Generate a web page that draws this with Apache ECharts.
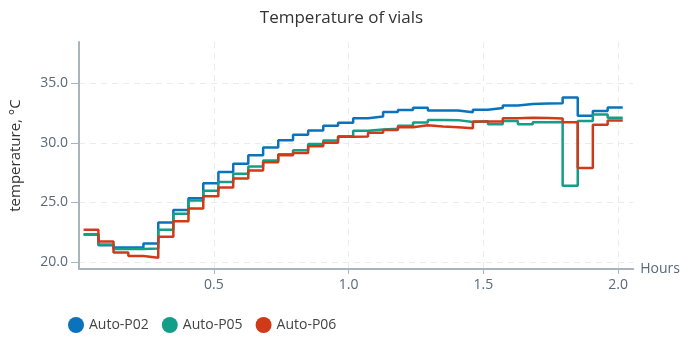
<!DOCTYPE html>
<html lang="en">
<head>
    <meta charset="UTF-8">
    <title>Temperature of vials</title>
    <script src="https://cdn.jsdelivr.net/npm/echarts@6/dist/echarts.min.js"></script>
</head>
<body style="margin:0">
    <div id="main" style="width:683px;height:341px;"></div>
</body>
<script>
// time of each step edge, hours
var hours = [0.017, 0.072, 0.128, 0.183, 0.239, 0.294, 0.350, 0.406, 0.461, 0.517,
             0.572, 0.628, 0.683, 0.739, 0.794, 0.850, 0.906, 0.961, 1.017, 1.072,
             1.128, 1.183, 1.239, 1.294, 1.350, 1.406, 1.461, 1.517, 1.572, 1.628,
             1.683, 1.739, 1.794, 1.850, 1.906, 1.961, 2.017];

var names = ['Auto-P02', 'Auto-P05', 'Auto-P06'];

var p02 = [22.3, 21.4, 21.2, 21.2, 21.55, 23.3, 24.35, 25.35, 26.6, 27.55,
           28.23, 28.95, 29.6, 30.2, 30.67, 31.03, 31.42, 31.67, 32.06, 32.2,
           32.59, 32.76, 32.93, 32.7, 32.7, 32.57, 32.78, 32.92, 33.12, 33.25,
           33.3, 33.32, 33.8, 32.27, 32.66, 32.97, 32.97];

var p05 = [22.3, 21.45, 21.07, 21.07, 21.12, 22.7, 24.03, 25.15, 25.98, 26.71,
           27.4, 28.0, 28.5, 29.04, 29.37, 29.9, 30.18, 30.55, 31.0, 31.11,
           31.17, 31.42, 31.7, 31.92, 31.9, 31.75, 31.8, 31.55, 31.83, 31.55,
           31.72, 31.75, 26.4, 31.83, 32.37, 32.11, 32.11];

var p06 = [22.7, 21.7, 20.78, 20.5, 20.35, 22.1, 23.4, 24.48, 25.5, 26.24,
           27.0, 27.68, 28.37, 28.95, 29.15, 29.7, 30.0, 30.5, 30.52, 30.85,
           31.08, 31.31, 31.47, 31.36, 31.3, 31.22, 31.78, 31.78, 32.06, 32.1,
           32.08, 32.04, 31.72, 27.88, 31.52, 31.87, 31.87];

var colors = ['#0a73bb', '#139e88', '#d13a19'];

function pairs(vals){
    var out = [];
    for (var i = 0; i < hours.length; i++) {
        out.push([hours[i], vals[i]]);
    }
    return out;
}

var font = 'Open Sans';
var axisGray = '#a9b4bd';
var labelGray = '#5a6878';

var chart = echarts.init(document.getElementById('main'));
chart.setOption({
    animation: false,
    color: colors,
    textStyle: { fontFamily: font },
    title: {
        text: 'Temperature of vials',
        left: 'center',
        top: 5,
        textStyle: { fontFamily: font, fontSize: 17, fontWeight: 'normal', color: '#333' }
    },
    grid: { left: 76, right: 46, top: 42, bottom: 72 },
    legend: {
        left: 63,
        top: 312,
        icon: 'circle',
        itemWidth: 16,
        itemHeight: 16,
        itemGap: 13,
        textStyle: { fontFamily: font, fontSize: 14, color: '#444' },
        data: names
    },
    xAxis: {
        type: 'value',
        min: 0,
        max: 2.056,
        interval: 0.5,
        name: 'Hours',
        nameLocation: 'end',
        nameGap: 7,
        nameTextStyle: { fontFamily: font, fontSize: 14, color: labelGray },
        axisLine: { lineStyle: { color: axisGray, width: 2 } },
        axisTick: { show: true, length: 5, lineStyle: { color: axisGray } },
        axisLabel: {
            showMinLabel: false,
            showMaxLabel: false,
            fontSize: 14,
            color: labelGray,
            margin: 9,
            formatter: function (v) { return v.toFixed(1); }
        },
        splitLine: {
            show: true,
            showMinLine: false,
            showMaxLine: false,
            lineStyle: { color: '#e9ecef', type: [6, 5] }
        }
    },
    yAxis: {
        type: 'value',
        min: 19.4,
        max: 38.46,
        splitNumber: 4,
        name: 'temperature, \u00b0C',
        nameLocation: 'middle',
        nameGap: 56,
        nameTextStyle: { fontFamily: font, fontSize: 15, color: '#333' },
        axisLine: { show: true, lineStyle: { color: axisGray, width: 2 } },
        axisTick: { show: true, length: 8, lineStyle: { color: axisGray } },
        axisLabel: {
            showMinLabel: false,
            showMaxLabel: false,
            fontSize: 14,
            color: labelGray,
            margin: 11,
            formatter: function (v) { return v.toFixed(1); }
        },
        splitLine: {
            show: true,
            showMinLine: false,
            showMaxLine: false,
            lineStyle: { color: '#e9ecef', type: [6, 5] }
        }
    },
    series: [
        { name: names[0], type: 'line', step: 'end', showSymbol: false, lineStyle: { width: 2.5 }, data: pairs(p02) },
        { name: names[1], type: 'line', step: 'end', showSymbol: false, lineStyle: { width: 2.5 }, data: pairs(p05) },
        { name: names[2], type: 'line', step: 'end', showSymbol: false, lineStyle: { width: 2.5 }, data: pairs(p06) }
    ]
});
</script>
</html>
